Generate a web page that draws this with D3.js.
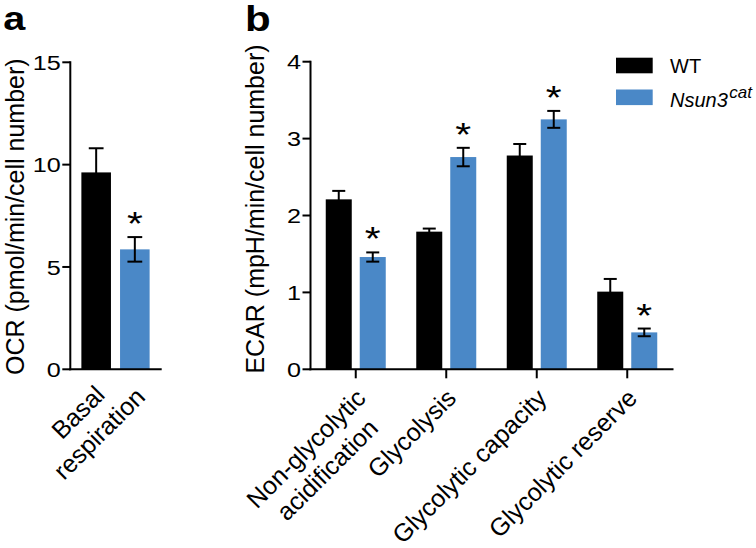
<!DOCTYPE html>
<html><head><meta charset="utf-8">
<script src="https://cdn.jsdelivr.net/npm/d3@7"></script>
<style>
html,body{margin:0;padding:0;background:#fff;}
svg{display:block;font-family:"Liberation Sans",Arial,Helvetica,sans-serif;}
</style>
</head><body>
<svg id="chart" width="756" height="548"></svg>
<script>
// ---------- data ----------
const seriesNames = ["WT", "Nsun3"];
const legendMain = ["WT", "Nsun3"];
const legendSup = ["", "cat"];

const categoriesA = [["Basal", "respiration"]];
const wtA = [9.62];
const wtErrA = [1.18];
const nsunA = [5.86];
const nsunErrA = [0.60];
const sigA = [true];
const yTicksA = [0, 5, 10, 15];
const yTitleA = "OCR (pmol/min/cell number)";

const categoriesB = [["Non-glycolytic", "acidification"], ["Glycolysis"], ["Glycolytic capacity"], ["Glycolytic reserve"]];
const wtB = [2.21, 1.79, 2.78, 1.01];
const wtErrB = [0.11, 0.04, 0.15, 0.165];
const nsunB = [1.46, 2.76, 3.25, 0.48];
const nsunErrB = [0.06, 0.12, 0.11, 0.05];
const sigB = [true, true, true, true];
const yTicksB = [0, 1, 2, 3, 4];
const yTitleB = "ECAR (mpH/min/cell number)";

// ---------- style ----------
const colors = { "WT": "#000000", "Nsun3": "#4a88c7" };
const SX = 1.2; // horizontal stretch of axis text, as in the reference
const svg = d3.select("#chart");

function stext(parent, x, y, str, rot, sx) {
  const s = sx === undefined ? SX : sx;
  return parent.append("text")
    .attr("transform", `translate(${x},${y}) scale(${s},1)` + (rot ? ` rotate(${rot})` : ""))
    .attr("fill", "#000")
    .text(str);
}

function panel(p) {
  const g = svg.append("g");
  const keys = p.cats.map((c, i) => i);
  const x = d3.scaleBand().domain(keys).range([p.x0, p.x1])
    .paddingInner(p.pin).paddingOuter(p.pin / 2);
  const xs = d3.scaleBand().domain(seriesNames).range([0, x.bandwidth()]).paddingInner(0.235);
  const y = d3.scaleLinear().domain([0, p.ymax]).range([p.y0, p.y1]);

  const rows = keys.map(i => ({
    i,
    vals: [
      { s: "WT", v: p.wt[i], e: p.wtErr[i] },
      { s: "Nsun3", v: p.ns[i], e: p.nsErr[i] }
    ],
    sig: p.sig[i]
  }));

  // bars
  const grp = g.selectAll("g.grp").data(rows).join("g").attr("class", "grp")
    .attr("transform", d => `translate(${x(d.i)},0)`);
  grp.selectAll("rect").data(d => d.vals).join("rect")
    .attr("x", d => xs(d.s))
    .attr("width", xs.bandwidth())
    .attr("y", d => y(d.v))
    .attr("height", d => y(0) - y(d.v))
    .attr("fill", d => colors[d.s]);

  // error bars
  const cap = xs.bandwidth() * 0.5;
  grp.each(function (d) {
    const gg = d3.select(this);
    d.vals.forEach(v => {
      const cx = xs(v.s) + xs.bandwidth() / 2;
      const yt = y(v.v + v.e), yb = y(v.v - v.e);
      gg.append("line").attr("x1", cx).attr("x2", cx).attr("y1", yt).attr("y2", yb)
        .attr("stroke", "#000").attr("stroke-width", 2);
      [yt, yb].forEach(yy => gg.append("line")
        .attr("x1", cx - cap / 2).attr("x2", cx + cap / 2).attr("y1", yy).attr("y2", yy)
        .attr("stroke", "#000").attr("stroke-width", 2));
    });
    if (d.sig) {
      const v = d.vals[1];
      const cx = x(d.i) + xs(v.s) + xs.bandwidth() / 2;
      stext(g, cx, y(v.v + v.e) - 2, "*")
        .attr("text-anchor", "middle").style("font-size", "34px");
    }
  });

  // axes
  const ya = d3.axisLeft(y).tickValues(p.yticks).tickSize(8).tickSizeOuter(0).tickFormat("").offset(0);
  const yg = g.append("g").attr("transform", `translate(${p.x0},0)`).call(ya);
  const xa = d3.axisBottom(x).tickSize(p.xTick).tickSizeOuter(0).tickFormat("").offset(0);
  const xg = g.append("g").attr("transform", `translate(0,${p.y0})`).call(xa);
  [yg, xg].forEach(a => {
    a.select(".domain").attr("stroke", "#000").attr("stroke-width", 2).attr("stroke-linecap", "square");
    a.selectAll(".tick line").attr("stroke", "#000").attr("stroke-width", 2);
  });

  // y tick labels
  p.yticks.forEach(t => stext(g, p.x0 - 9.5, y(t), String(t))
    .attr("text-anchor", "end").attr("dy", "0.36em").style("font-size", "21px"));

  // y title
  stext(g, p.titleX, p.titleY, p.title, -90, 1.05)
    .attr("text-anchor", "middle").style("font-size", "25px");

  // category labels (rotated 45°, centered multi-line; first row's end anchored near the tick)
  keys.forEach(i => {
    const tx = x(i) + x.bandwidth() / 2;
    const gl = g.append("g")
      .attr("transform", `translate(${tx + p.lab[0]},${p.y0 + p.lab[1]}) rotate(-45)`);
    const lines = p.cats[i];
    const ts = lines.map((s, j) => gl.append("text")
      .attr("text-anchor", "middle").attr("dominant-baseline", "central")
      .attr("y", j * 30)
      .style("font-size", "25px").attr("fill", "#000").text(s));
    const Lmax = d3.max(ts, t => t.node().getComputedTextLength());
    ts.forEach(t => t.attr("x", -Lmax / 2));
  });
}

panel({
  cats: categoriesA, wt: wtA, wtErr: wtErrA, ns: nsunA, nsErr: nsunErrA, sig: sigA,
  yticks: yTicksA, ymax: 15, x0: 70.3, x1: 160.7, y0: 369.3, y1: 62.3, pin: 0.245,
  xTick: 0, lab: [3.5, 1.5], title: yTitleA, titleX: 23.5, titleY: 216.7
});
panel({
  cats: categoriesB, wt: wtB, wtErr: wtErrB, ns: nsunB, nsErr: nsunErrB, sig: sigB,
  yticks: yTicksB, ymax: 4, x0: 310.5, x1: 672.5, y0: 369.3, y1: 61.7, pin: 0.337,
  xTick: 9, lab: [5, 24], title: yTitleB, titleX: 264, titleY: 209
});

// panel letters
stext(svg, 3.3, 30, "a").style("font-size", "33px").style("font-weight", "bold");
stext(svg, 245, 31, "b").style("font-size", "35px").style("font-weight", "bold");

// legend
const lg = svg.append("g");
seriesNames.forEach((s, i) => {
  const yy = 57.7 + i * 31.8;
  lg.append("rect").attr("x", 616).attr("y", yy).attr("width", 36.7).attr("height", 15.6)
    .attr("fill", colors[s]);
  const t = lg.append("text").attr("x", 670).attr("y", yy + 15 + i * 2)
    .style("font-size", "20px").attr("fill", "#000")
    .style("font-style", i === 1 ? "italic" : "normal");
  t.append("tspan").text(legendMain[i]);
  if (legendSup[i]) t.append("tspan").attr("dx", 1.5).attr("dy", -9).style("font-size", "17px").text(legendSup[i]);
});
</script>
</body></html>
